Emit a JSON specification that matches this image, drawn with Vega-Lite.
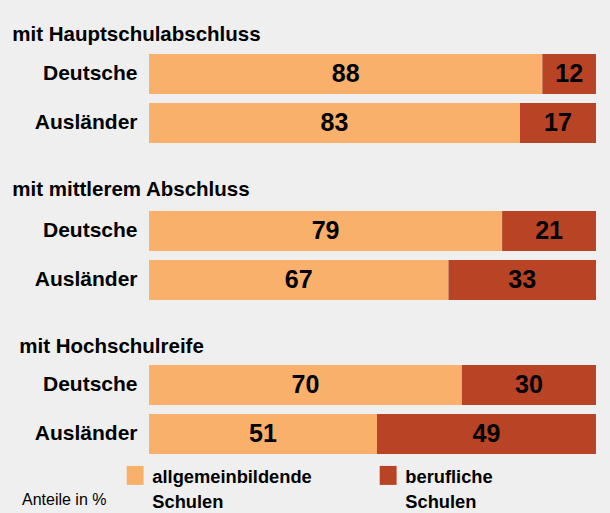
{
  "$schema": "https://vega.github.io/schema/vega-lite/v6.json",
  "background": "#eeefee",
  "padding": {"left": 12, "top": 24, "right": 14, "bottom": 10},
  "data": {"values": [
    {"group": "mit Hauptschulabschluss", "nat": "Deutsche", "type": "allgemeinbildende Schulen", "value": 88},
    {"group": "mit Hauptschulabschluss", "nat": "Deutsche", "type": "berufliche Schulen", "value": 12},
    {"group": "mit Hauptschulabschluss", "nat": "Ausländer", "type": "allgemeinbildende Schulen", "value": 83},
    {"group": "mit Hauptschulabschluss", "nat": "Ausländer", "type": "berufliche Schulen", "value": 17},
    {"group": "mit mittlerem Abschluss", "nat": "Deutsche", "type": "allgemeinbildende Schulen", "value": 79},
    {"group": "mit mittlerem Abschluss", "nat": "Deutsche", "type": "berufliche Schulen", "value": 21},
    {"group": "mit mittlerem Abschluss", "nat": "Ausländer", "type": "allgemeinbildende Schulen", "value": 67},
    {"group": "mit mittlerem Abschluss", "nat": "Ausländer", "type": "berufliche Schulen", "value": 33},
    {"group": "mit Hochschulreife", "nat": "Deutsche", "type": "allgemeinbildende Schulen", "value": 70},
    {"group": "mit Hochschulreife", "nat": "Deutsche", "type": "berufliche Schulen", "value": 30},
    {"group": "mit Hochschulreife", "nat": "Ausländer", "type": "allgemeinbildende Schulen", "value": 51},
    {"group": "mit Hochschulreife", "nat": "Ausländer", "type": "berufliche Schulen", "value": 49}
  ]},
  "spacing": 36,
  "vconcat": [
    {
      "transform": [{"filter": "datum.group == 'mit Hauptschulabschluss'"}],
      "title": {"text": "mit Hauptschulabschluss", "offset": 9, "dx": -22},
      "width": 447, "height": 89,
      "encoding": {
        "y": {"field": "nat", "type": "nominal", "sort": ["Deutsche", "Ausländer"], "scale": {"paddingInner": 0.1837, "paddingOuter": 0}, "axis": {"title": null}},
        "x": {"field": "value", "type": "quantitative", "stack": "zero", "scale": {"domain": [0, 100], "nice": false}, "axis": null},
        "order": {"field": "type"}
      },
      "layer": [
        {"mark": {"type": "bar"}, "encoding": {"color": {"field": "type", "type": "nominal", "legend": {"title": "Anteile in %", "labelExpr": "split(datum.label, ' ')", "orient": "none", "legendX": -127, "legendY": 406}}}},
        {"mark": {"type": "text"}, "encoding": {"x": {"field": "value", "type": "quantitative", "stack": "zero", "bandPosition": 0.5}, "detail": {"field": "type"}, "text": {"field": "value"}}}
      ]
    },
    {
      "transform": [{"filter": "datum.group == 'mit mittlerem Abschluss'"}],
      "title": {"text": "mit mittlerem Abschluss", "offset": 11, "dx": -22},
      "width": 447, "height": 89,
      "encoding": {
        "y": {"field": "nat", "type": "nominal", "sort": ["Deutsche", "Ausländer"], "scale": {"paddingInner": 0.1837, "paddingOuter": 0}, "axis": {"title": null}},
        "x": {"field": "value", "type": "quantitative", "stack": "zero", "scale": {"domain": [0, 100], "nice": false}, "axis": null},
        "order": {"field": "type"}
      },
      "layer": [
        {"mark": {"type": "bar"}, "encoding": {"color": {"field": "type", "type": "nominal", "legend": {"title": "Anteile in %", "labelExpr": "split(datum.label, ' ')", "orient": "none", "legendX": -127, "legendY": 406}}}},
        {"mark": {"type": "text"}, "encoding": {"x": {"field": "value", "type": "quantitative", "stack": "zero", "bandPosition": 0.5}, "detail": {"field": "type"}, "text": {"field": "value"}}}
      ]
    },
    {
      "transform": [{"filter": "datum.group == 'mit Hochschulreife'"}],
      "title": {"text": "mit Hochschulreife", "offset": 8, "dx": -15},
      "width": 447, "height": 89,
      "encoding": {
        "y": {"field": "nat", "type": "nominal", "sort": ["Deutsche", "Ausländer"], "scale": {"paddingInner": 0.1837, "paddingOuter": 0}, "axis": {"title": null}},
        "x": {"field": "value", "type": "quantitative", "stack": "zero", "scale": {"domain": [0, 100], "nice": false}, "axis": null},
        "order": {"field": "type"}
      },
      "layer": [
        {"mark": {"type": "bar"}, "encoding": {"color": {"field": "type", "type": "nominal", "legend": {"title": "Anteile in %", "labelExpr": "split(datum.label, ' ')", "orient": "none", "legendX": -127, "legendY": 406}}}},
        {"mark": {"type": "text"}, "encoding": {"x": {"field": "value", "type": "quantitative", "stack": "zero", "bandPosition": 0.5}, "detail": {"field": "type"}, "text": {"field": "value"}}}
      ]
    }
  ],
  "resolve": {"scale": {"color": "shared"}},
  "config": {
    "font": "Liberation Sans",
    "view": {"stroke": null},
    "scale": {"bandPaddingInner": 0.1837, "bandPaddingOuter": 0},
    "range": {"category": ["#f8b06a", "#b84325"]},
    "bar": {"stroke": null},
    "text": {"fontSize": 25, "fontWeight": "bold", "color": "#000000", "baseline": "middle", "align": "center"},
    "title": {"fontSize": 20.5, "fontWeight": "bold", "color": "#000000", "anchor": "start", "baseline": "alphabetic", "font": "Liberation Sans"},
    "axis": {"domain": false, "ticks": false, "labelPadding": 12, "labelFontSize": 21, "labelFontWeight": "bold", "labelColor": "#000000", "labelFont": "Liberation Sans", "grid": false},
    "style": {"guide-label": {"lineHeight": 25}},
    "legend": {
      "direction": "horizontal",
      "titleOrient": "left", "titleFontSize": 16, "titleFontWeight": "normal", "titleColor": "#000000", "titleAnchor": "end", "titleBaseline": "line-bottom", "titleLineHeight": 23, "titlePadding": 19, "titleFont": "Liberation Sans", "titleLimit": 200,
      "symbolType": "M -0.94 -0.39 H 0.94 V 1.72 H -0.94 Z", "symbolSize": 324, "symbolStrokeWidth": 0, "symbolOpacity": 1,
      "labelFont": "Liberation Sans", "labelFontSize": 18.3, "labelFontWeight": "bold", "labelColor": "#000000", "labelOffset": 8, "labelLimit": 300, "labelBaseline": "top",
      "columnPadding": 67
    }
  }
}
